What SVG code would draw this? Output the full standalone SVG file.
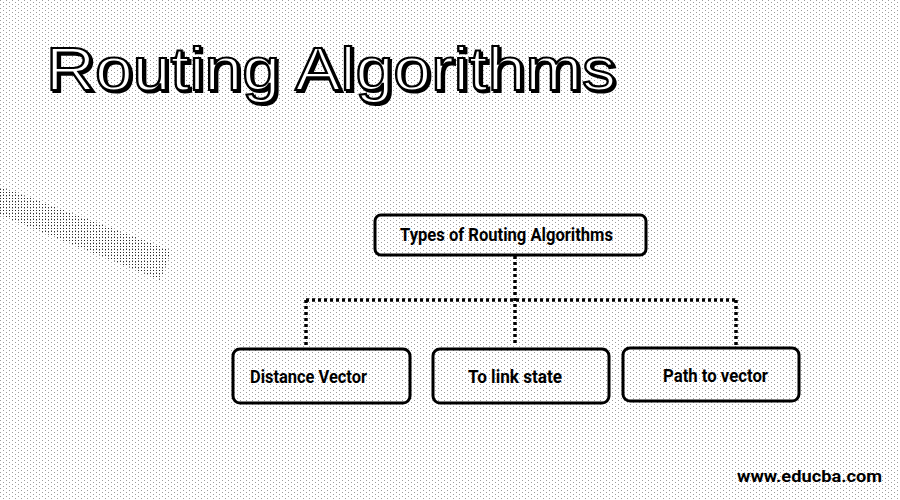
<svg xmlns="http://www.w3.org/2000/svg" width="900" height="500" viewBox="0 0 900 500">
  <defs>
    <pattern id="dots" width="6" height="4" patternUnits="userSpaceOnUse">
      <rect x="0" y="0" width="1" height="1" fill="#000" fill-opacity="0.7"/>
      <rect x="3" y="2" width="1" height="1" fill="#000" fill-opacity="0.7"/>
    </pattern>
    <pattern id="dense" width="3" height="3" patternUnits="userSpaceOnUse">
      <rect x="0" y="0" width="1" height="1" fill="#000"/>
    </pattern>
    <filter id="shadow" x="-5%" y="-20%" width="110%" height="150%">
      <feDropShadow dx="2" dy="2" stdDeviation="0" flood-color="#000" flood-opacity="1"/>
    </filter>
  </defs>
  <style>
    .box { fill: none; stroke: #000; stroke-width: 3; }
    .lbl { font-family: "Roboto", "Liberation Sans", sans-serif; font-weight: bold; font-size: 18px; fill: #000; }
    .conn { fill: none; stroke: #000; stroke-width: 3.5; stroke-dasharray: 3 3; }
    .title { font-family: "Liberation Sans", Arial, sans-serif; font-size: 62px; fill: #fff; stroke: #000; stroke-width: 2.2; }
  </style>

  <rect width="900" height="500" fill="#fff"/>
  <rect width="900" height="500" fill="url(#dots)" opacity="0.55"/>
  <polygon points="0,188 10,190 170,250 168,262 160,280 0,215" fill="url(#dense)" opacity="0.8"/>

  <g id="title">
    <text class="title" x="46" y="90" textLength="570" lengthAdjust="spacingAndGlyphs" filter="url(#shadow)">Routing Algorithms</text>
  </g>

  <g id="connectors">
    <path class="conn" d="M515,256 V346"/>
    <path class="conn" d="M306,300 H736"/>
    <path class="conn" d="M306,300 V347"/>
    <path class="conn" d="M736,300 V347"/>
  </g>

  <g id="root">
    <rect class="box" x="375" y="215" width="271" height="40" rx="6"/>
    <text class="lbl" x="400" y="241" textLength="213" lengthAdjust="spacingAndGlyphs">Types of Routing Algorithms</text>
  </g>

  <g id="distance-vector">
    <rect class="box" x="233" y="349" width="177" height="54" rx="7"/>
    <text class="lbl" x="250" y="383" textLength="117" lengthAdjust="spacingAndGlyphs">Distance Vector</text>
  </g>

  <g id="link-state">
    <rect class="box" x="433" y="349" width="176" height="54" rx="7"/>
    <text class="lbl" x="468" y="383" textLength="94" lengthAdjust="spacingAndGlyphs">To link state</text>
  </g>

  <g id="path-vector">
    <rect class="box" x="623" y="348" width="176" height="53" rx="7"/>
    <text class="lbl" x="663" y="382" textLength="105" lengthAdjust="spacingAndGlyphs">Path to vector</text>
  </g>

  <g id="watermark">
    <text x="737" y="482" textLength="145" lengthAdjust="spacingAndGlyphs" style="font-family: 'Roboto', 'Liberation Sans', sans-serif; font-weight: bold; font-size: 17px; fill: #000;">www.educba.com</text>
  </g>
</svg>
